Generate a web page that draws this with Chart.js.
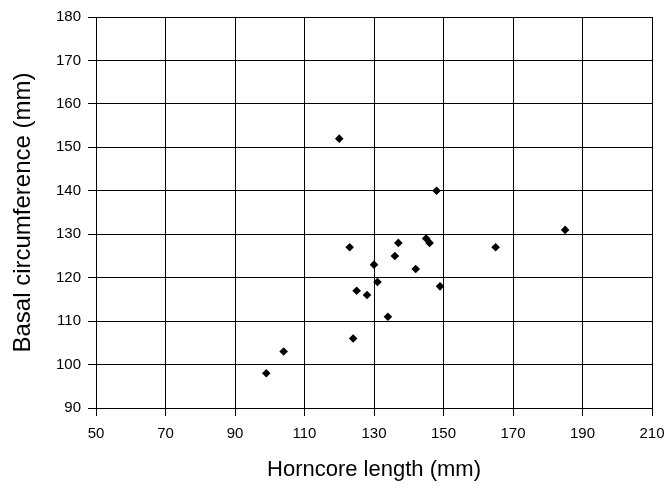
<!DOCTYPE html>
<html>
<head>
<meta charset="utf-8">
<script src="https://cdn.jsdelivr.net/npm/chart.js@4/dist/chart.umd.min.js"></script>
<style>
  html, body { margin: 0; padding: 0; background: #fff; }
  #wrap { width: 670px; height: 490px; }
</style>
</head>
<body>
<div id="wrap"><canvas id="c" width="670" height="490"></canvas></div>
<script>
// Horncore length (mm)
const horncoreLength = [120, 148, 185, 165, 145, 146, 137, 136, 130, 142, 131, 149, 134, 123, 125, 128, 124, 104, 99];
// Basal circumference (mm)
const basalCircumference = [152, 140, 131, 127, 129, 128, 128, 125, 123, 122, 119, 118, 111, 127, 117, 116, 106, 103, 98];
const xTicks = [50, 70, 90, 110, 130, 150, 170, 190, 210];
const yTicks = [90, 100, 110, 120, 130, 140, 150, 160, 170, 180];

const points = horncoreLength.map((x, i) => ({ x: x, y: basalCircumference[i] }));
const FONT = 'Arial, "Liberation Sans", sans-serif';

new Chart(document.getElementById('c'), {
  type: 'scatter',
  data: {
    datasets: [{
      data: points,
      pointStyle: 'rectRot',
      pointRadius: 4.3,
      pointHoverRadius: 4.3,
      backgroundColor: '#000',
      borderColor: '#000',
      borderWidth: 0
    }]
  },
  options: {
    responsive: false,
    devicePixelRatio: 1,
    animation: false,
    layout: { padding: { top: 17, right: 18, left: 0, bottom: 0 } },
    plugins: { legend: { display: false }, tooltip: { enabled: false } },
    scales: {
      x: {
        type: 'linear',
        min: xTicks[0],
        max: xTicks[xTicks.length - 1],
        afterBuildTicks: (s) => { s.ticks = xTicks.map(v => ({ value: v })); },
        afterFit: (s) => { s.height = 82; s.paddingRight = 0; s.paddingLeft = 0; },
        grid: { color: '#000', lineWidth: 1, tickLength: 8, tickColor: '#000' },
        border: { color: '#000', width: 1 },
        ticks: { color: '#000', font: { family: FONT, size: 15 }, padding: 9, maxRotation: 0 },
        title: { display: true, text: 'Horncore length (mm)', color: '#000', font: { family: FONT, size: 22 }, padding: { top: 0, bottom: 7 } }
      },
      y: {
        type: 'linear',
        min: yTicks[0],
        max: yTicks[yTicks.length - 1],
        afterBuildTicks: (s) => { s.ticks = yTicks.map(v => ({ value: v })); },
        afterFit: (s) => { s.width = 96; s.paddingTop = 0; s.paddingBottom = 0; },
        grid: { color: '#000', lineWidth: 1, tickLength: 8, tickColor: '#000' },
        border: { color: '#000', width: 1 },
        ticks: { color: '#000', font: { family: FONT, size: 15 }, padding: 7 },
        title: { display: true, text: 'Basal circumference (mm)', color: '#000', font: { family: FONT, size: 24 }, padding: { top: 9, bottom: 0 } }
      }
    }
  }
});
</script>
</body>
</html>
